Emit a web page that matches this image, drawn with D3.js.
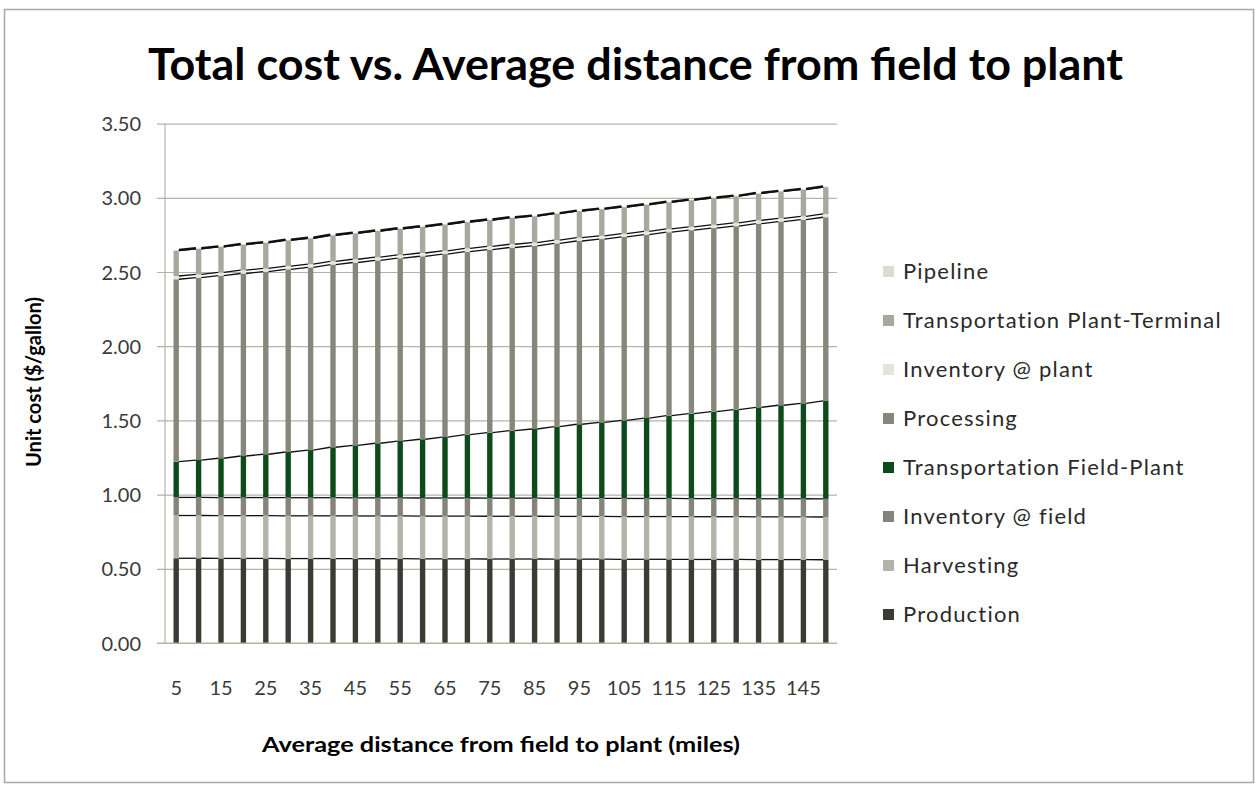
<!DOCTYPE html>
<html>
<head>
<meta charset="utf-8">
<script src="https://cdn.jsdelivr.net/npm/d3@7"></script>
<style>
  html, body { margin: 0; padding: 0; background: #ffffff; }
  svg { display: block; }
  text { font-family: Lato, "Open Sans", "DejaVu Sans", sans-serif; }
</style>
</head>
<body>
<svg id="chart" width="1258" height="786"></svg>
<script>
// Average distance from field to plant (miles)
const distances = [5, 10, 15, 20, 25, 30, 35, 40, 45, 50, 55, 60, 65, 70, 75,
                   80, 85, 90, 95, 100, 105, 110, 115, 120, 125, 130, 135, 140, 145, 150];
const xTickLabels = [5, 15, 25, 35, 45, 55, 65, 75, 85, 95, 105, 115, 125, 135, 145];
const yTickLabels = [0, 0.5, 1.0, 1.5, 2.0, 2.5, 3.0, 3.5];

// Unit cost components ($/gallon), bottom of the stack first
const production = [0.571, 0.571, 0.570, 0.570, 0.570, 0.569, 0.569, 0.569, 0.568, 0.568, 0.568, 0.567, 0.567, 0.567, 0.566,
                    0.566, 0.566, 0.565, 0.565, 0.565, 0.564, 0.564, 0.564, 0.563, 0.563, 0.563, 0.562, 0.562, 0.562, 0.561];
const harvesting = [0.288, 0.288, 0.288, 0.288, 0.288, 0.288, 0.288, 0.288, 0.288, 0.288, 0.288, 0.288, 0.288, 0.288, 0.288,
                    0.288, 0.288, 0.288, 0.288, 0.288, 0.288, 0.288, 0.288, 0.288, 0.288, 0.288, 0.288, 0.288, 0.288, 0.288];
const inventoryField = [0.122, 0.122, 0.122, 0.122, 0.122, 0.122, 0.122, 0.122, 0.122, 0.122, 0.122, 0.122, 0.122, 0.122, 0.122,
                        0.122, 0.122, 0.122, 0.122, 0.122, 0.122, 0.122, 0.122, 0.122, 0.122, 0.122, 0.122, 0.122, 0.122, 0.122];
const transportFieldPlant = [0.241, 0.252, 0.265, 0.280, 0.292, 0.308, 0.321, 0.340, 0.354, 0.368, 0.383, 0.396, 0.411, 0.427, 0.441,
                             0.455, 0.466, 0.483, 0.499, 0.512, 0.526, 0.542, 0.558, 0.572, 0.586, 0.599, 0.616, 0.630, 0.643, 0.660];
const processing = [1.229, 1.229, 1.230, 1.230, 1.230, 1.231, 1.231, 1.231, 1.232, 1.232, 1.232, 1.233, 1.233, 1.233, 1.234,
                    1.234, 1.234, 1.235, 1.235, 1.235, 1.236, 1.236, 1.236, 1.237, 1.237, 1.237, 1.238, 1.238, 1.238, 1.238];
const inventoryPlant = [0.022, 0.022, 0.022, 0.022, 0.022, 0.022, 0.022, 0.022, 0.022, 0.022, 0.022, 0.022, 0.022, 0.022, 0.022,
                        0.022, 0.022, 0.022, 0.022, 0.022, 0.022, 0.022, 0.022, 0.022, 0.022, 0.022, 0.022, 0.022, 0.022, 0.022];
const transportPlantTerminal = [0.171, 0.172, 0.172, 0.173, 0.173, 0.174, 0.174, 0.175, 0.175, 0.176, 0.176, 0.176, 0.177, 0.177, 0.177,
                                0.178, 0.178, 0.178, 0.179, 0.179, 0.179, 0.179, 0.180, 0.180, 0.180, 0.180, 0.181, 0.181, 0.181, 0.181];
const pipeline = [0.004, 0.004, 0.004, 0.004, 0.004, 0.004, 0.004, 0.004, 0.004, 0.004, 0.004, 0.004, 0.004, 0.004, 0.004,
                  0.004, 0.004, 0.004, 0.004, 0.004, 0.004, 0.004, 0.004, 0.004, 0.004, 0.004, 0.004, 0.004, 0.004, 0.004];

const seriesNames = ["Production", "Harvesting", "Inventory @ field", "Transportation Field-Plant",
                     "Processing", "Inventory @ plant", "Transportation Plant-Terminal", "Pipeline"];
const seriesValues = [production, harvesting, inventoryField, transportFieldPlant,
                      processing, inventoryPlant, transportPlantTerminal, pipeline];
const seriesColors = ["#3b3b36", "#b3b3aa", "#84847c", "#0d4a1c",
                      "#87867b", "#e4e4dc", "#a8a89e", "#dcdcd4"];

// Table for d3.stack
const table = distances.map((d, i) => {
  const row = { distance: d };
  seriesNames.forEach((name, k) => { row[name] = seriesValues[k][i]; });
  return row;
});

const svg = d3.select("#chart");

// Outer chart frame
svg.append("rect")
  .attr("x", 4.5).attr("y", 9.5).attr("width", 1249).attr("height", 773)
  .attr("fill", "#ffffff").attr("stroke", "#a8a8a0").attr("stroke-width", 1.5);

const plotLeft = 165, plotRight = 837, plotTop = 123.6, plotBottom = 643;

const x = d3.scaleBand()
  .domain(distances)
  .range([plotLeft, plotRight])
  .paddingInner(0.76)
  .paddingOuter(0.38);

const y = d3.scaleLinear()
  .domain([0, 3.5])
  .range([plotBottom, plotTop]);

// Gridlines and value labels
const yAxis = svg.append("g")
  .attr("transform", `translate(157,0)`)
  .call(d3.axisLeft(y)
    .tickValues(yTickLabels)
    .tickSize(-(plotRight - 157))
    .tickPadding(16)
    .tickFormat(d3.format(".2f")));
yAxis.select(".domain").remove();
yAxis.selectAll(".tick line").attr("stroke", "#b4b3a8").attr("stroke-width", 1.2);
yAxis.selectAll(".tick text")
  .attr("font-size", 20).attr("fill", "#3a3a3a")
  .attr("dy", "0.35em");

// Vertical axis line
svg.append("line")
  .attr("x1", plotLeft).attr("x2", plotLeft)
  .attr("y1", plotTop).attr("y2", plotBottom)
  .attr("stroke", "#b4b3a8").attr("stroke-width", 1.2);

// Category labels
const xAxis = svg.append("g")
  .attr("transform", `translate(0,${plotBottom})`)
  .call(d3.axisBottom(x).tickValues(xTickLabels).tickSize(0).tickPadding(38));
xAxis.select(".domain").remove();
xAxis.selectAll(".tick text")
  .attr("font-size", 20).attr("fill", "#3a3a3a");

// Stacked columns
const stack = d3.stack().keys(seriesNames);
const layers = stack(table);

const layerG = svg.append("g")
  .selectAll("g")
  .data(layers)
  .join("g")
  .attr("fill", (d, i) => seriesColors[i]);

layerG.selectAll("rect")
  .data(d => d)
  .join("rect")
  .attr("x", d => x(d.data.distance))
  .attr("width", x.bandwidth())
  .attr("y", d => y(d[1]))
  .attr("height", d => y(d[0]) - y(d[1]));

// Series lines joining the top of each segment to the next column
const linesG = svg.append("g")
  .attr("stroke", "#111111")
  .attr("fill", "none");
layers.forEach((layer, k) => {
  const isTop = k === layers.length - 1;
  for (let i = 0; i < layer.length - 1; i++) {
    const a = layer[i], b = layer[i + 1];
    linesG.append("line")
      .attr("stroke-width", isTop ? 2.4 : 1.3)
      .attr("x1", x(a.data.distance) + x.bandwidth())
      .attr("y1", y(a[1]))
      .attr("x2", x(b.data.distance))
      .attr("y2", y(b[1]));
  }
});

// Baseline
svg.append("line")
  .attr("x1", 157).attr("x2", plotRight)
  .attr("y1", plotBottom).attr("y2", plotBottom)
  .attr("stroke", "#b4b3a8").attr("stroke-width", 1.2);

// Title
svg.append("text")
  .attr("x", 148).attr("y", 80)
  .attr("font-size", 44).attr("font-weight", "bold").attr("fill", "#000")
  .attr("textLength", 975).attr("lengthAdjust", "spacingAndGlyphs")
  .text("Total cost vs. Average distance from field to plant");

// Axis titles
svg.append("text")
  .attr("x", 262).attr("y", 752)
  .attr("font-size", 21).attr("font-weight", "bold").attr("fill", "#000")
  .attr("textLength", 478).attr("lengthAdjust", "spacingAndGlyphs")
  .text("Average distance from field to plant (miles)");

svg.append("text")
  .attr("transform", "translate(41,467) rotate(-90)")
  .attr("font-size", 21).attr("font-weight", "bold").attr("fill", "#000")
  .attr("textLength", 170).attr("lengthAdjust", "spacingAndGlyphs")
  .text("Unit cost ($/gallon)");

// Legend, top of the stack first
const legendOrder = seriesNames.map((n, i) => i).reverse();
const legend = svg.append("g")
  .selectAll("g")
  .data(legendOrder)
  .join("g")
  .attr("transform", (d, j) => `translate(883,${271.5 + j * 49})`);
legend.append("rect")
  .attr("x", 0).attr("y", -5.5).attr("width", 11).attr("height", 11)
  .attr("fill", d => seriesColors[d]);
legend.append("text")
  .attr("x", 20).attr("dy", "0.35em")
  .attr("font-size", 22).attr("letter-spacing", 1.2).attr("fill", "#2a2a2a")
  .text(d => seriesNames[d]);
</script>
</body>
</html>
